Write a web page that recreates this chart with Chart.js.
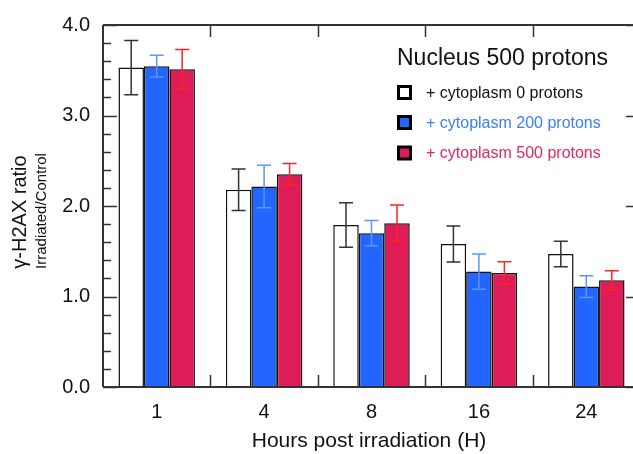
<!DOCTYPE html>
<html>
<head>
<meta charset="utf-8">
<script src="https://cdn.jsdelivr.net/npm/chart.js@4"></script>
<style>
  html, body { margin: 0; padding: 0; background: #fff; overflow: hidden; width: 633px; height: 454px; }
  canvas { display: block; }
</style>
</head>
<body>
<canvas id="chart" width="640" height="454"></canvas>
<script>
const hours = ['1', '4', '8', '16', '24'];
const yTicks = [0, 1, 2, 3, 4];

// nucleus 500 protons + cytoplasm 0 / 200 / 500 protons
const cyto0 = [3.53, 2.18, 1.79, 1.58, 1.47];
const cyto0Err = [0.30, 0.23, 0.245, 0.20, 0.14];
const cyto200 = [3.545, 2.215, 1.70, 1.275, 1.11];
const cyto200Err = [0.12, 0.235, 0.14, 0.195, 0.12];
const cyto500 = [3.51, 2.35, 1.81, 1.26, 1.18];
const cyto500Err = [0.22, 0.12, 0.20, 0.125, 0.105];

const legendTitle = 'Nucleus 500 protons';
const seriesNames = ['+ cytoplasm 0 protons', '+ cytoplasm 200 protons', '+ cytoplasm 500 protons'];
const barColors = ['#ffffff', '#2266ff', '#de1d58'];
const errColors = ['#333333', '#5a96ff', '#ff2424'];
const textColors = ['#111111', '#3a7dff', '#e02862'];
const errors = [cyto0Err, cyto200Err, cyto500Err];

const FONT = "'Liberation Sans', Arial, sans-serif";

const errorBars = {
  id: 'errorBars',
  afterDatasetsDraw(chart) {
    const ctx = chart.ctx, y = chart.scales.y;
    ctx.save();
    ctx.lineWidth = 1.5;
    chart.data.datasets.forEach((ds, i) => {
      const meta = chart.getDatasetMeta(i);
      ctx.strokeStyle = errColors[i];
      meta.data.forEach((bar, j) => {
        const v = ds.data[j], e = errors[i][j];
        const top = y.getPixelForValue(v + e), bot = y.getPixelForValue(v - e);
        const cap = 7;
        ctx.beginPath();
        ctx.moveTo(bar.x, top); ctx.lineTo(bar.x, bot);
        ctx.moveTo(bar.x - cap, top); ctx.lineTo(bar.x + cap, top);
        ctx.moveTo(bar.x - cap, bot); ctx.lineTo(bar.x + cap, bot);
        ctx.stroke();
      });
    });
    ctx.restore();
  }
};

const frame = {
  id: 'frame',
  afterDraw(chart) {
    const ctx = chart.ctx, a = chart.chartArea, x = chart.scales.x, y = chart.scales.y;
    ctx.save();
    ctx.strokeStyle = '#333';
    ctx.lineWidth = 2;
    ctx.beginPath();
    ctx.moveTo(a.left, a.top); ctx.lineTo(a.right, a.top);
    ctx.moveTo(a.left, a.bottom); ctx.lineTo(a.right, a.bottom);
    ctx.moveTo(a.left, a.top); ctx.lineTo(a.left, a.bottom);
    ctx.moveTo(a.right, a.top); ctx.lineTo(a.right, a.bottom);
    ctx.stroke();

    // y ticks, inward, minor every 0.2
    ctx.lineWidth = 1.5;
    ctx.beginPath();
    for (let k = 0; k <= 20; k++) {
      const v = k * 0.2;
      const py = Math.round(y.getPixelForValue(v)) + 0.5;
      const major = k % 5 === 0;
      ctx.moveTo(a.left, py); ctx.lineTo(a.left + (major ? 14 : 8), py);
      if (major) { ctx.moveTo(a.right, py); ctx.lineTo(a.right - 14, py); }
    }
    // x ticks at category boundaries
    for (let k = 1; k < hours.length; k++) {
      const px = Math.round((x.getPixelForValue(k - 1) + x.getPixelForValue(k)) / 2) + 0.5;
      ctx.moveTo(px, a.top); ctx.lineTo(px, a.top + 12);
      ctx.moveTo(px, a.bottom); ctx.lineTo(px, a.bottom - 12);
    }
    ctx.stroke();

    // y title
    ctx.fillStyle = '#111';
    ctx.textAlign = 'center';
    ctx.textBaseline = 'middle';
    ctx.save();
    ctx.translate(20, 212);
    ctx.rotate(-Math.PI / 2);
    ctx.font = '20px ' + FONT;
    ctx.fillText('γ-H2AX ratio', 0, 0);
    ctx.restore();
    ctx.save();
    ctx.translate(42, 211);
    ctx.rotate(-Math.PI / 2);
    ctx.font = '15px ' + FONT;
    ctx.fillText('Irradiated/Control', 0, 0);
    ctx.restore();

    // x title
    ctx.font = '21px ' + FONT;
    ctx.fillText('Hours post irradiation (H)', 369, 441);

    // legend
    ctx.textAlign = 'left';
    ctx.font = '23px ' + FONT;
    ctx.fillText(legendTitle, 397, 59);
    const rows = [92.5, 122.5, 153];
    ctx.font = '16px ' + FONT;
    seriesNames.forEach((name, i) => {
      const cy = rows[i];
      ctx.fillStyle = '#000';
      ctx.fillRect(397, cy - 7.5, 15, 15);
      ctx.fillStyle = barColors[i];
      ctx.fillRect(400, cy - 4.5, 9, 9);
      ctx.fillStyle = textColors[i];
      ctx.fillText(name, 426, cy + 1);
    });
    ctx.restore();
  }
};

new Chart(document.getElementById('chart'), {
  type: 'bar',
  data: {
    labels: hours,
    datasets: [cyto0, cyto200, cyto500].map((d, i) => ({
      label: seriesNames[i],
      data: d,
      backgroundColor: barColors[i],
      borderColor: '#111',
      borderWidth: 1.5,
      borderSkipped: 'bottom',
      categoryPercentage: 0.712,
      barPercentage: 1.0
    }))
  },
  options: {
    responsive: false,
    animation: false,
    devicePixelRatio: 1,
    layout: { padding: { top: 24, right: 0, left: 0, bottom: 0 } },
    plugins: { legend: { display: false }, tooltip: { enabled: false } },
    scales: {
      x: {
        grid: { display: false, drawTicks: false },
        border: { display: false },
        ticks: { color: '#111', font: { family: FONT, size: 20 }, padding: 13 },
        afterFit: s => { s.height = 67; }
      },
      y: {
        min: 0, max: 4,
        grid: { display: false, drawTicks: false },
        border: { display: false },
        ticks: {
          color: '#111', font: { family: FONT, size: 20 }, padding: 13,
          stepSize: 1,
          callback: v => yTicks.includes(v) ? v.toFixed(1) : ''
        },
        afterFit: s => { s.width = 103; }
      }
    }
  },
  plugins: [errorBars, frame]
});
</script>
</body>
</html>
